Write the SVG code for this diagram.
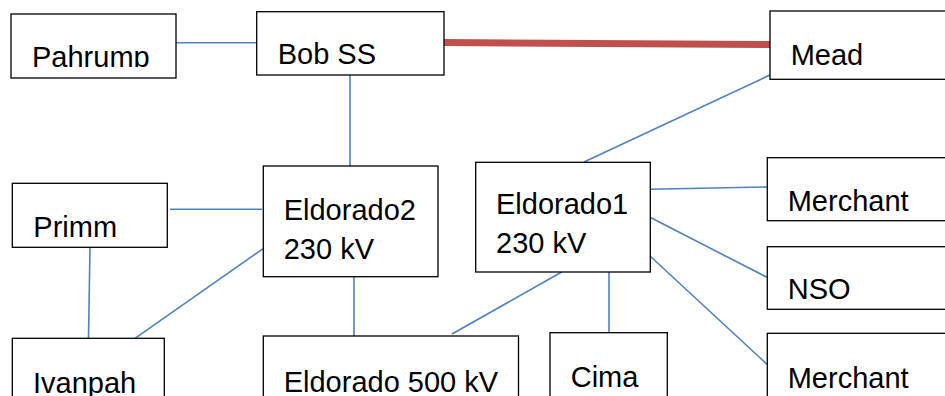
<svg xmlns="http://www.w3.org/2000/svg" width="945" height="396" viewBox="0 0 945 396">
<style>
.box{fill:#fff;stroke:#000;stroke-width:1.3}
.lbl{font-family:"Liberation Sans",Arial,sans-serif;font-size:29px;fill:#000}
.ln{stroke:#4F81BD;stroke-width:1.6;fill:none}
.red{stroke:#C0504D;stroke-width:7;fill:none}
</style>
<defs>
<clipPath id="clipPahrump"><rect x="11" y="14" width="165" height="53"/></clipPath>
</defs>
<rect width="945" height="396" fill="#fff"/>
<g id="connectors">
<line class="ln" x1="176" y1="42.7" x2="257" y2="42.7"/>
<line class="red" x1="444" y1="42.5" x2="771" y2="44.5"/>
<line class="ln" x1="350" y1="75" x2="350" y2="166"/>
<line class="ln" x1="170" y1="209.3" x2="262" y2="209.3"/>
<line class="ln" x1="90" y1="247" x2="88.5" y2="338"/>
<line class="ln" x1="265" y1="247.3" x2="135" y2="338.3"/>
<line class="ln" x1="354" y1="277" x2="354" y2="336"/>
<line class="ln" x1="770" y1="75" x2="584" y2="162"/>
<line class="ln" x1="650" y1="189.3" x2="767" y2="187"/>
<line class="ln" x1="650" y1="217.3" x2="767" y2="277.3"/>
<line class="ln" x1="650" y1="256" x2="767" y2="364.3"/>
<line class="ln" x1="609" y1="272" x2="609" y2="333"/>
<line class="ln" x1="561.7" y1="272" x2="452" y2="334"/>
</g>
<g id="pahrump">
<rect class="box" x="11" y="14" width="165" height="64"/>
<text class="lbl" x="32" y="67" clip-path="url(#clipPahrump)">Pahrump</text>
</g>
<g id="bobss">
<rect class="box" x="256.7" y="11.7" width="187.3" height="63.3"/>
<text class="lbl" x="277.7" y="64">Bob SS</text>
</g>
<g id="mead">
<rect class="box" x="770" y="11" width="180" height="68.3"/>
<text class="lbl" x="790.7" y="65">Mead</text>
</g>
<g id="primm">
<rect class="box" x="12.3" y="183.3" width="155" height="64"/>
<text class="lbl" x="33.3" y="236.7">Primm</text>
</g>
<g id="eldorado2">
<rect class="box" x="263.3" y="166" width="174.7" height="110.7"/>
<text class="lbl" x="283.7" y="220">Eldorado2</text>
<text class="lbl" x="283.7" y="259">230 kV</text>
</g>
<g id="eldorado1">
<rect class="box" x="475.7" y="162.3" width="174.6" height="109.7"/>
<text class="lbl" x="496" y="214.3">Eldorado1</text>
<text class="lbl" x="496" y="253.3">230 kV</text>
</g>
<g id="merchant1">
<rect class="box" x="767.3" y="157.7" width="185" height="63"/>
<text class="lbl" x="787.7" y="211">Merchant</text>
</g>
<g id="nso">
<rect class="box" x="767.3" y="246.7" width="185" height="62.6"/>
<text class="lbl" x="787.7" y="299">NSO</text>
</g>
<g id="merchant2">
<rect class="box" x="767.3" y="333.3" width="185" height="70"/>
<text class="lbl" x="787.7" y="387.5">Merchant</text>
</g>
<g id="ivanpah">
<rect class="box" x="12.3" y="338.3" width="152" height="70"/>
<text class="lbl" x="33" y="393">Ivanpah</text>
</g>
<g id="eldorado500">
<rect class="box" x="263.3" y="336" width="255.2" height="70"/>
<text class="lbl" x="283.7" y="391.5">Eldorado 500 kV</text>
</g>
<g id="cima">
<rect class="box" x="550" y="332.7" width="117.3" height="70"/>
<text class="lbl" x="570.7" y="387">Cima</text>
</g>
</svg>
